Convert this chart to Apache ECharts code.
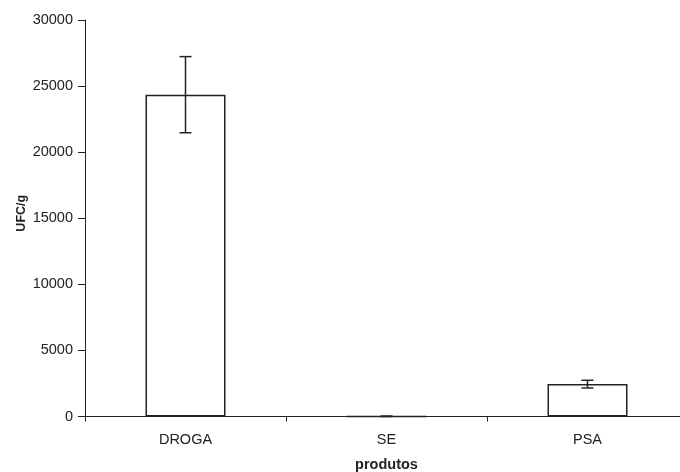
<!DOCTYPE html>
<html>
<head>
<meta charset="utf-8">
<script src="https://cdn.jsdelivr.net/npm/echarts@6/dist/echarts.min.js"></script>
<style>html,body{margin:0;padding:0;background:#fff}#c{width:680px;height:472px}</style>
</head>
<body>
<div id="c"></div>
<script>
const categories = ['DROGA', 'SE', 'PSA'];
const means = [24350, 15, 2450];
const errors = [2880, 15, 290];
const yTicks = [0, 5000, 10000, 15000, 20000, 25000, 30000];

const chart = echarts.init(document.getElementById('c'), null, {renderer: 'canvas'});
const errData = categories.map((c, i) => [i, means[i] - errors[i], means[i] + errors[i]]);
chart.setOption({
  animation: false,
  backgroundColor: '#fff',
  grid: {left: 85, width: 603, top: 20, height: 396.5, containLabel: false, outerBoundsMode: 'none'},
  xAxis: {
    type: 'category', data: categories,
    name: 'produtos', nameLocation: 'middle', nameGap: 41, nameMoveOverlap: false,
    nameTextStyle: {fontFamily: 'Liberation Sans', fontSize: 14.5, fontWeight: 'bold', color: '#222'},
    axisLine: {lineStyle: {color: '#222', width: 1}},
    axisTick: {show: true, length: 5, lineStyle: {color: '#222'}},
    axisLabel: {fontFamily: 'Liberation Sans', fontSize: 14.5, color: '#222', margin: 16}
  },
  yAxis: {
    type: 'value', min: yTicks[0], max: yTicks[yTicks.length - 1], interval: 5000,
    name: 'UFC/g', nameLocation: 'middle', nameGap: 57, nameRotate: 90, nameMoveOverlap: false,
    nameTextStyle: {fontFamily: 'Liberation Sans', fontSize: 12.5, fontWeight: 'bold', color: '#222',
      padding: [0, 0, 0, 10]},
    axisLine: {show: true, lineStyle: {color: '#222', width: 1}},
    axisTick: {show: true, length: 7, lineStyle: {color: '#222'}},
    axisLabel: {fontFamily: 'Liberation Sans', fontSize: 14.5, color: '#222', margin: 12,
      formatter: function (v) { return String(v); }},
    splitLine: {show: false}
  },
  series: [
    {
      type: 'bar', data: means, barWidth: 80,
      itemStyle: {color: '#fff', borderColor: '#222', borderWidth: 1.5}
    },
    {
      type: 'custom', data: errData, z: 10,
      renderItem: function (params, api) {
        const x = api.value(0);
        const lo = api.coord([x, api.value(1)]);
        const hi = api.coord([x, api.value(2)]);
        const hw = 6;
        const st = {stroke: '#222', lineWidth: 1.5};
        return {type: 'group', children: [
          {type: 'line', shape: {x1: hi[0], y1: hi[1], x2: lo[0], y2: lo[1]}, style: st},
          {type: 'line', shape: {x1: hi[0] - hw, y1: hi[1], x2: hi[0] + hw, y2: hi[1]}, style: st},
          {type: 'line', shape: {x1: lo[0] - hw, y1: lo[1], x2: lo[0] + hw, y2: lo[1]}, style: st}
        ]};
      }
    }
  ]
});
</script>
</body>
</html>
